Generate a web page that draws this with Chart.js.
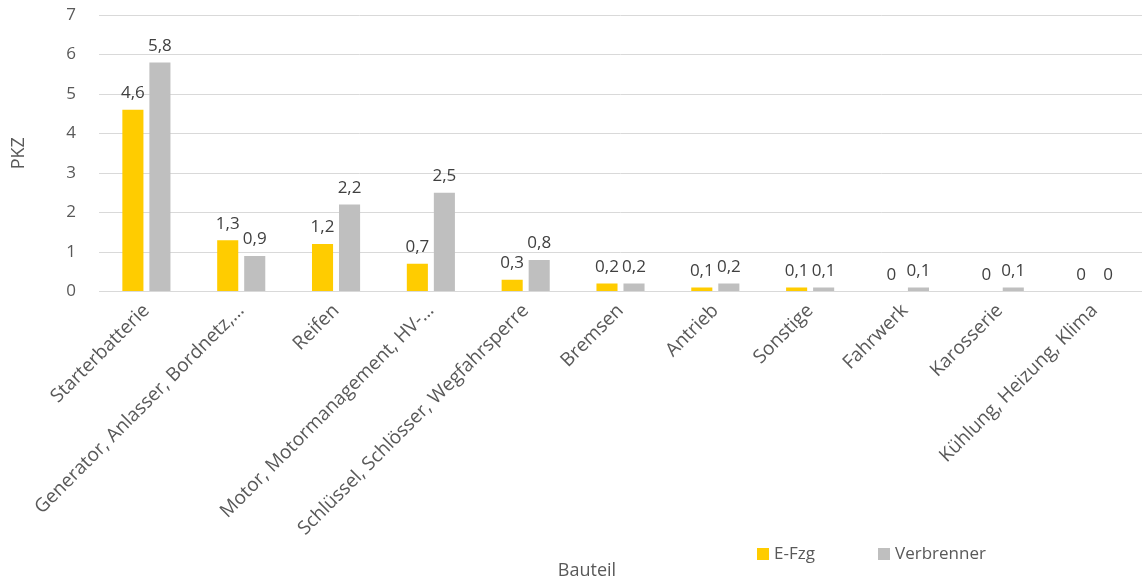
<!DOCTYPE html>
<html>
<head>
<meta charset="utf-8">
<script src="https://cdn.jsdelivr.net/npm/chart.js@4"></script>
<style>
  html, body { margin: 0; padding: 0; background: #fff; }
  #wrap { width: 1142px; height: 583px; position: relative; }
</style>
</head>
<body>
<div id="wrap"><canvas id="barChart"></canvas></div>
<script>
const categories = [
  'Starterbatterie',
  'Generator, Anlasser, Bordnetz,…',
  'Reifen',
  'Motor, Motormanagement, HV-…',
  'Schlüssel, Schlösser, Wegfahrsperre',
  'Bremsen',
  'Antrieb',
  'Sonstige',
  'Fahrwerk',
  'Karosserie',
  'Kühlung, Heizung, Klima'
];
const eFzg = [4.6, 1.3, 1.2, 0.7, 0.3, 0.2, 0.1, 0.1, 0, 0, 0];
const verbrenner = [5.8, 0.9, 2.2, 2.5, 0.8, 0.2, 0.2, 0.1, 0.1, 0.1, 0];
const yTicks = [0, 1, 2, 3, 4, 5, 6, 7];

const FONT = "'Open Sans', sans-serif";
const TXT = '#595959';

// value labels above bars, German decimal comma
const valueLabels = {
  id: 'valueLabels',
  afterDatasetsDraw(chart) {
    const ctx = chart.ctx;
    ctx.save();
    ctx.font = '17px ' + FONT;
    ctx.fillStyle = '#404040';
    ctx.textAlign = 'center';
    ctx.textBaseline = 'bottom';
    chart.data.datasets.forEach((ds, i) => {
      chart.getDatasetMeta(i).data.forEach((bar, j) => {
        const txt = String(ds.data[j]).replace('.', ',');
        ctx.fillText(txt, bar.x, bar.y - 8);
      });
    });
    ctx.restore();
  }
};

// legend and x title placed like the original
const extras = {
  id: 'extras',
  afterDraw(chart) {
    const ctx = chart.ctx;
    ctx.save();
    ctx.font = '17px ' + FONT;
    ctx.textBaseline = 'middle';
    ctx.textAlign = 'left';
    let x = 757;
    chart.data.datasets.forEach(ds => {
      ctx.fillStyle = ds.backgroundColor;
      ctx.fillRect(x, 548, 12, 12);
      ctx.fillStyle = TXT;
      ctx.fillText(ds.label, x + 17, 554);
      x += 121;
    });
    ctx.textAlign = 'center';
    ctx.font = '18px ' + FONT;
    ctx.fillText('Bauteil', 587, 571);
    ctx.restore();
  }
};

new Chart(document.getElementById('barChart'), {
  type: 'bar',
  data: {
    labels: categories,
    datasets: [
      { label: 'E-Fzg', data: eFzg, backgroundColor: '#FFCC00' },
      { label: 'Verbrenner', data: verbrenner, backgroundColor: '#BFBFBF' }
    ]
  },
  options: {
    responsive: true,
    maintainAspectRatio: false,
    animation: false,
    layout: { padding: { top: 0, right: 0, bottom: 35, left: 8 } },
    datasets: { bar: { categoryPercentage: 0.57, barPercentage: 0.78 } },
    plugins: {
      legend: { display: false },
      tooltip: { enabled: false }
    },
    scales: {
      x: {
        grid: { display: false, drawTicks: false },
        border: { color: '#D9D9D9', width: 1 },
        ticks: {
          autoSkip: false,
          maxRotation: 45,
          minRotation: 45,
          padding: 8,
          color: TXT,
          font: { family: FONT, size: 19 }
        }
      },
      y: {
        min: 0,
        max: 7,
        afterBuildTicks(scale) { scale.ticks = yTicks.map(v => ({ value: v })); },
        afterFit(scale) {
          scale.width = 91;
          scale.paddingTop = 15;
          scale.paddingBottom = 10;
        },
        grid: { color: '#D9D9D9', drawTicks: false },
        border: { display: false },
        ticks: {
          padding: 23,
          color: TXT,
          font: { family: FONT, size: 17 }
        },
        title: {
          display: true,
          text: 'PKZ',
          color: TXT,
          padding: { top: 0, bottom: 8 },
          font: { family: FONT, size: 18 }
        }
      }
    }
  },
  plugins: [valueLabels, extras]
});
</script>
</body>
</html>
